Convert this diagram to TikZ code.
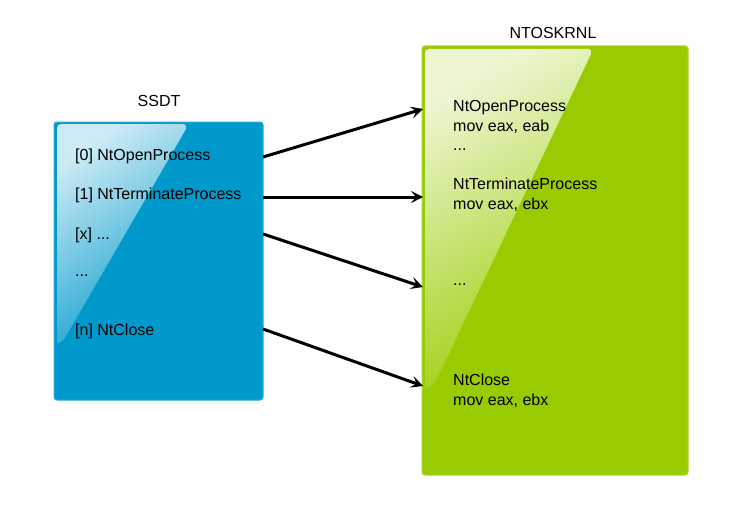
\documentclass[tikz,border=0pt]{standalone}
\usepackage{fontspec}
\setmainfont{Liberation Sans}
\usetikzlibrary{arrows.meta}
\definecolor{ssdtblue}{RGB}{0,153,204}
\definecolor{ssdtedge}{RGB}{40,170,215}
\definecolor{ntgreen}{RGB}{153,204,0}
\definecolor{ntedge}{RGB}{170,215,40}
\tikzset{
  box/.style={rounded corners=3pt, line width=1pt, inner sep=0pt},
  lbl/.style={font=\fontsize{16}{19.5}\selectfont, inner sep=0pt, anchor=west, align=left},
  ttl/.style={font=\fontsize{16}{19.5}\selectfont, inner sep=0pt},
  arr/.style={line width=3pt, -{Stealth[length=12pt,width=12pt,inset=5pt]}},
}
\begin{document}
\begin{tikzpicture}[x=1pt,y=-1pt]
\useasboundingbox (0,0) rectangle (755,511);
% SSDT box
\node[box, draw=ssdtedge, fill=ssdtblue, minimum width=209pt, minimum height=278pt] (ssdt) at (158.5,261) {};
\shade[top color=white!80!ssdtblue, middle color=white!22!ssdtblue, bottom color=white!5!ssdtblue, shading angle=35]
  (57,340) -- (57,128) to[out=90,in=180] (61,124) -- (184,124) to[out=0,in=80] (186,129) -- (66,336) to[out=240,in=0] (57,343) -- cycle;
\node[ttl] (ssdtlbl) at (159,101) {SSDT};
\node[lbl] (s0) at (75,156.5) {[0] NtOpenProcess};
\node[lbl] (s1) at (75,195.5) {[1] NtTerminateProcess};
\node[lbl] (sx) at (75,235.5) {[x] ...};
\node[lbl] (sd) at (75,275.5) {...};
\node[lbl] (sn) at (75,331.5) {[n] NtClose};
% NTOSKRNL box
\node[box, draw=ntedge, fill=ntgreen, minimum width=266pt, minimum height=429pt] (nt) at (555,260.5) {};
\shade[top color=white!82!ntgreen, middle color=white!25!ntgreen, bottom color=white!5!ntgreen, shading angle=30]
  (425,384) -- (425,53) to[out=90,in=180] (429,49) -- (589,49) to[out=0,in=80] (591,54) -- (436,381) to[out=240,in=0] (425,388) -- cycle;
\node[ttl] (ntlbl) at (553,33) {NTOSKRNL};
\node[lbl] (t0) at (453,125.5) {NtOpenProcess\\mov eax, eab\\...};
\node[lbl] (t1) at (453,194.5) {NtTerminateProcess\\mov eax, ebx};
\node[lbl] (tx) at (453,284.5) {...};
\node[lbl] (tn) at (453,390.5) {NtClose\\mov eax, ebx};
% connectors
\coordinate (a0) at (263,157);
\coordinate (a1) at (263,197);
\coordinate (a2) at (263,234);
\coordinate (a3) at (263,329);
\coordinate (b0) at (423,109);
\coordinate (b1) at (423,197);
\coordinate (b2) at (423,287);
\coordinate (b3) at (423,386);
\draw[arr] (a0) -- (b0);
\draw[arr] (a1) -- (b1);
\draw[arr] (a2) -- (b2);
\draw[arr] (a3) -- (b3);
\end{tikzpicture}
\end{document}
